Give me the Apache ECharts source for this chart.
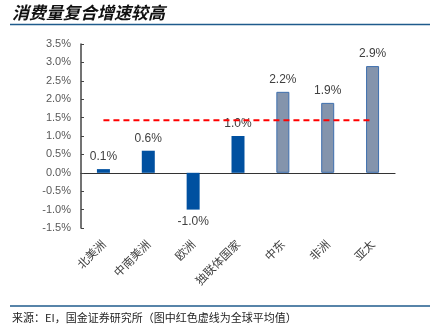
<!DOCTYPE html>
<html><head><meta charset="utf-8">
<script src="https://cdn.jsdelivr.net/npm/echarts@6/dist/echarts.min.js"></script>
<style>html,body{margin:0;padding:0;background:#fff}#c{width:430px;height:335px}</style>
</head><body><div id="c"></div>
<script>
const categories = ['北美洲','中南美洲','欧洲','独联体国家','中东','非洲','亚太'];
const growth = [0.1, 0.6, -1.0, 1.0, 2.2, 1.9, 2.9];
const globalAverage = 1.43;
const yTicks = { min: -1.5, max: 3.5, step: 0.5 };
const titleText = '消费量复合增速较高';
const sourceText = '来源：EI，国金证券研究所（图中红色虚线为全球平均值）';

const chart = echarts.init(document.getElementById('c'), null, {renderer:'canvas'});
const barData = growth.map((v, i) => ({
  value: v,
  itemStyle: i < 4 ? {color:'#0050a0', borderWidth:0} : {color:'#8494ac', borderColor:'#3e6fae', borderWidth:1},
  label: {position: v < 0 ? 'bottom' : 'top'}
}));
chart.setOption({
  animation:false,
  grid:{left:81, right:35, top:44, bottom:107, containLabel:false, outerBoundsMode:'none'},
  xAxis:{type:'category', data:categories,
    axisLine:{onZero:true, lineStyle:{color:'#333', width:1.2}},
    axisTick:{inside:true, length:4, lineStyle:{color:'#333'}},
    axisLabel:{rotate:45, margin:14, fontSize:11.5, color:'#404040', fontFamily:'Noto Sans CJK SC', interval:0}},
  yAxis:{type:'value', min:yTicks.min, max:yTicks.max, interval:yTicks.step,
    splitLine:{show:false},
    axisLine:{show:true, lineStyle:{color:'#444', width:1.5}},
    axisTick:{show:true, inside:true, length:3, lineStyle:{color:'#444'}},
    axisLabel:{fontSize:11, color:'#595959', fontFamily:'Liberation Sans', margin:10,
      formatter:v=>v.toFixed(1)+'%'}},
  series:[
    {type:'bar', data:barData, barWidth:13,
      label:{show:true, distance:6, fontSize:12, color:'#404040', fontFamily:'Liberation Sans',
        formatter:p=>p.value.toFixed(1)+'%'}},
    {type:'line', data:categories.map(()=>globalAverage), symbol:'none', z:5,
      lineStyle:{color:'#ff0000', width:2, type:[6,4]}}
  ],
  graphic:[
    {type:'text', left:12, top:4, style:{text:titleText, font:'italic bold 17px "Noto Sans CJK SC"', fill:'#111'}},
    {type:'line', shape:{x1:10,y1:24.5,x2:430,y2:24.5}, style:{stroke:'#1f5b8c', lineWidth:1.5}},
    {type:'line', shape:{x1:10,y1:306,x2:430,y2:306}, style:{stroke:'#1f5b8c', lineWidth:1.5}},
    {type:'text', left:12, top:312, style:{text:sourceText, font:'11px "Noto Sans CJK SC"', fill:'#222'}}
  ]
});
</script></body></html>
